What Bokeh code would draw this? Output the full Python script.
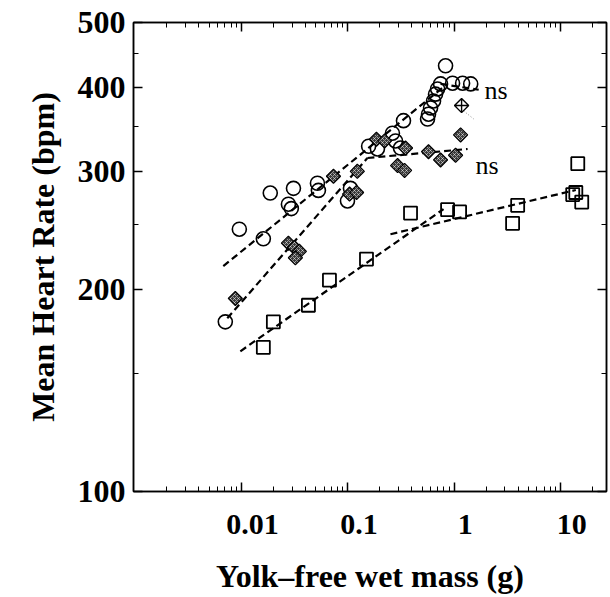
import numpy as np
from bokeh.plotting import figure
from bokeh.models import (Range1d, LogAxis, LogScale, FixedTicker, CustomJSTickFormatter, Label)
from bokeh.embed import file_html
from bokeh.resources import INLINE

# ---- data (yolk-free wet mass in g, heart rate in bpm) ----
circle_mass = [0.00707, 0.00958, 0.0161, 0.0187, 0.0309, 0.0277, 0.0295, 0.0519, 0.0530,
               0.106, 0.0994, 0.157, 0.190, 0.263, 0.281, 0.313, 0.334, 0.562, 0.574,
               0.600, 0.640, 0.668, 0.698, 0.830, 0.745, 0.966, 1.20, 1.43]
circle_hr = [179, 246, 238, 278.5, 283, 268, 264, 288, 281,
             283, 271, 327, 324, 342, 333, 325, 357, 359, 365,
             373, 382, 391, 398, 431, 405, 406, 406, 405]

diamond_mass = [0.00878, 0.0277, 0.0315, 0.0351, 0.0322, 0.0734, 0.123, 0.104, 0.121,
                0.186, 0.222, 0.349, 0.294, 0.342, 0.574, 0.745, 1.031, 1.149]
diamond_hr = [194, 234.5, 231, 228, 223, 295, 300, 277.5, 279,
              335, 333, 325, 306, 301, 321, 312, 317, 340]

open_diamond_mass = [1.174]
open_diamond_hr = [376]

square_mass = [0.0161, 0.0200, 0.0427, 0.0673, 0.150, 0.389, 0.867, 1.124,
               3.54, 3.95, 13.9, 14.5, 15.8, 13.0]
square_hr = [164, 179, 189.5, 206.5, 222, 260, 263, 261,
             251, 267, 279, 308, 270, 277]

# fitted regression segments (end points)
circle_fit1_mass = [0.00677, 0.795]
circle_fit1_hr = [216.7, 400.9]
circle_fit2_mass = [0.745, 1.70]
circle_fit2_hr = [405, 397]
diamond_fit1_mass = [0.00738, 0.153]
diamond_fit1_hr = [181.2, 314.1]
diamond_fit2_mass = [0.153, 1.337]
diamond_fit2_hr = [314.1, 323.9]
square_fit1_mass = [0.00979, 0.795]
square_fit1_hr = [161.8, 263.6]
square_fit2_mass = [0.252, 13.9]
square_fit2_hr = [241.8, 281.4]
leader_mass = [1.226, 1.522]
leader_hr = [369.2, 359.2]

ns_text = ["ns", "ns"]
ns_mass = [1.93, 1.59]
ns_hr = [395.4, 305.6]

x_ticks = [0.01, 0.1, 1, 10]
y_ticks = [100, 200, 300, 400, 500]
x_minor = [d * k for d in [0.001, 0.01, 0.1, 1, 10] for k in range(2, 10)]
y_minor = [150, 250, 350, 450]

SERIF = "Liberation Serif"
X_LO, X_HI = 0.00097, 27.0
# in the scanned figure the x tick labels sit ~0.1 decade right of their ticks
LABEL_SHIFT_DEC = 0.105

p = figure(width=608, height=597, x_axis_type="log", y_axis_type="log",
           x_range=Range1d(X_LO, X_HI), y_range=Range1d(100, 500),
           output_backend="svg", toolbar_location=None,
           min_border_left=133, min_border_right=2, min_border_top=22, min_border_bottom=106)
p.grid.visible = False
p.outline_line_color = "black"
p.outline_line_width = 1.5
p.background_fill_color = "white"
p.border_fill_color = "white"

p.extra_x_ranges = {"lab": Range1d(X_LO / 10 ** LABEL_SHIFT_DEC, X_HI / 10 ** LABEL_SHIFT_DEC)}
p.extra_x_scales = {"lab": LogScale()}

fmt = CustomJSTickFormatter(code="return String(tick);")
blank = CustomJSTickFormatter(code="return ' ';")


def style_axis(ax, ticks, minor, labels=True, size="30px"):
    ax.ticker = FixedTicker(ticks=ticks, minor_ticks=minor)
    ax.axis_line_color = "black"
    ax.axis_line_width = 1.5
    ax.major_tick_in = 9
    ax.major_tick_out = 0
    ax.minor_tick_in = 5
    ax.minor_tick_out = 0
    ax.major_tick_line_width = 1.5
    ax.minor_tick_line_width = 1
    ax.major_tick_line_color = "black"
    ax.minor_tick_line_color = "black"
    if labels:
        ax.formatter = fmt
        ax.major_label_text_font = SERIF
        ax.major_label_text_font_style = "bold"
        ax.major_label_text_font_size = size
        ax.major_label_text_color = "black"
    else:
        ax.formatter = blank
        ax.major_label_text_font_size = "2px"
        ax.major_label_text_alpha = 0
        ax.major_label_standoff = 0


# bottom: tick axis on the frame, label axis (labels + title) just under it
style_axis(p.xaxis[0], x_ticks, x_minor, labels=False)

lab_axis = LogAxis(x_range_name="lab")
style_axis(lab_axis, x_ticks, [], labels=True, size="30px")
lab_axis.axis_line_color = None
lab_axis.major_tick_line_color = None
lab_axis.minor_tick_line_color = None
lab_axis.major_tick_in = 0
lab_axis.minor_tick_in = 0
lab_axis.major_label_standoff = 23
lab_axis.axis_label = "Yolk\u2013free wet mass (g)"
lab_axis.axis_label_standoff = 21
p.add_layout(lab_axis, "below")

style_axis(p.yaxis[0], y_ticks, y_minor, size="32px")
p.yaxis[0].major_label_standoff = 8
p.yaxis[0].axis_label = "Mean Heart Rate (bpm)"
p.yaxis[0].axis_label_standoff = 14
for ax in (lab_axis, p.yaxis[0]):
    ax.axis_label_text_font = SERIF
    ax.axis_label_text_font_style = "bold"
    ax.axis_label_text_font_size = "32px"
    ax.axis_label_text_color = "black"

top = LogAxis()
style_axis(top, x_ticks, x_minor, labels=False)
p.add_layout(top, "above")
right = LogAxis()
style_axis(right, y_ticks, y_minor, labels=False)
p.add_layout(right, "right")

# regression lines
dash = "7 4"
for xs, ys in [(circle_fit1_mass, circle_fit1_hr), (circle_fit2_mass, circle_fit2_hr),
               (diamond_fit1_mass, diamond_fit1_hr), (diamond_fit2_mass, diamond_fit2_hr),
               (square_fit1_mass, square_fit1_hr), (square_fit2_mass, square_fit2_hr)]:
    p.line(xs, ys, line_color="black", line_width=2.2, line_dash=dash)
p.line(leader_mass, leader_hr, line_color="#888888", line_width=1, line_dash="1 2")

# markers
p.scatter(square_mass, square_hr, marker="square", size=13, fill_color=None,
          line_color="black", line_width=1.8)
p.scatter(circle_mass, circle_hr, marker="circle", size=14, fill_color=None,
          line_color="black", line_width=1.6)
p.scatter(diamond_mass, diamond_hr, marker="square", angle=np.pi / 4, size=10,
          fill_color="#3a3a3a", line_color="black", line_width=1.2,
          hatch_pattern="x", hatch_color="white", hatch_alpha=0.5, hatch_scale=4)
p.scatter(open_diamond_mass, open_diamond_hr, marker="square_x", angle=np.pi / 4, size=10,
          fill_color="white", line_color="black", line_width=1.4)

for t, xm, yh in zip(ns_text, ns_mass, ns_hr):
    p.add_layout(Label(x=xm, y=yh, text=t, text_font=SERIF, text_font_size="26px",
                       text_color="black", text_baseline="alphabetic", text_align="left"))

open("out.html", "w").write(file_html(p, INLINE))
